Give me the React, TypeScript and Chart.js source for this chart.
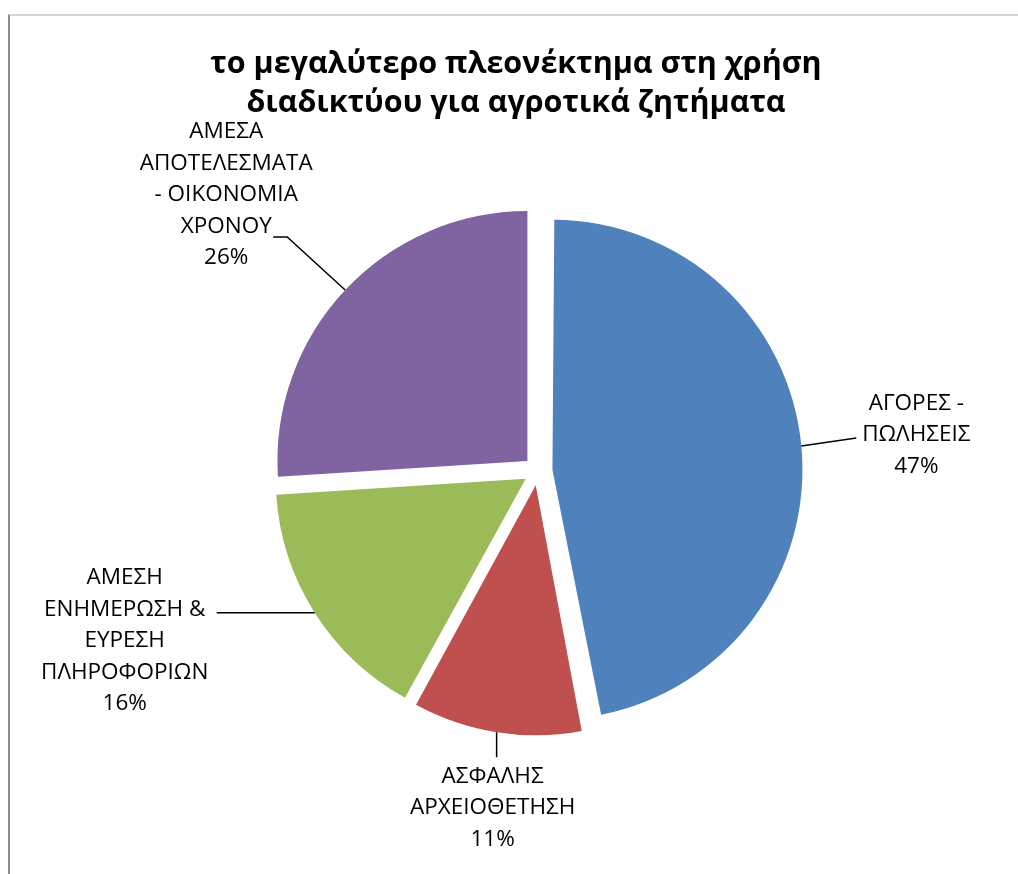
import React, { useEffect, useRef } from "react";
import { Chart, registerables } from "chart.js";

Chart.register(...registerables);

const titleLines = ["το μεγαλύτερο πλεονέκτημα στη χρήση", "διαδικτύου για αγροτικά ζητήματα"];
const categories: string[][] = [
  ["ΑΓΟΡΕΣ -", "ΠΩΛΗΣΕΙΣ"],
  ["ΑΣΦΑΛΗΣ", "ΑΡΧΕΙΟΘΕΤΗΣΗ"],
  ["ΑΜΕΣΗ", "ΕΝΗΜΕΡΩΣΗ &", "ΕΥΡΕΣΗ", "ΠΛΗΡΟΦΟΡΙΩΝ"],
  ["ΑΜΕΣΑ", "ΑΠΟΤΕΛΕΣΜΑΤΑ", "- ΟΙΚΟΝΟΜΙΑ", "ΧΡΟΝΟΥ"],
];
const values = [47, 11, 16, 26];
const colors = ["#4F81BD", "#C0504D", "#9BBB59", "#8064A2"];

const OFFSET = 58; // chart.js arc offset (translation = offset / 4)
const FONT = "'Open Sans', 'Noto Sans', sans-serif";
const LABEL_SIZE = 22.5;
const LINE_H = 31.5;

// label placement relative to the slice's outer mid point
const labelLayout = [
  { dx: 115, dy: -43, leader: [[55, -8]] },
  { dx: -4, dy: 44, leader: [[0, 25]] },
  { dx: -190, dy: -35, leader: [[-98, 0]] },
  { dx: -119, dy: -158, leader: [[-58, -53], [-72, -53]] },
];

const radiusFix = {
  id: "radiusFix",
  beforeDatasetsDraw(chart: any) {
    const meta = chart.getDatasetMeta(0);
    const R = meta.controller.outerRadius;
    meta.data.forEach((arc: any) => {
      const off = (arc.options.offset || 0) / 4;
      const fix = 1 - Math.sin(Math.min(Math.PI, arc.circumference || 0));
      arc.outerRadius = R - off * fix;
    });
  },
};

const titlePlugin = {
  id: "customTitle",
  afterDraw(chart: any) {
    const ctx = chart.ctx;
    ctx.save();
    ctx.fillStyle = "#000";
    ctx.font = `bold 30.5px ${FONT}`;
    ctx.textAlign = "center";
    ctx.textBaseline = "middle";
    titleLines.forEach((t, i) => ctx.fillText(t, 516, 64 + i * 39));
    ctx.restore();
  },
};

const labelPlugin = {
  id: "outsideLabels",
  afterDatasetsDraw(chart: any) {
    const ctx = chart.ctx;
    const meta = chart.getDatasetMeta(0);
    const R = meta.controller.outerRadius;
    const total = values.reduce((a, b) => a + b, 0);
    ctx.save();
    meta.data.forEach((arc: any, i: number) => {
      const mid = (arc.startAngle + arc.endAngle) / 2;
      const d = (arc.options.offset || 0) / 4;
      const cx = arc.x + Math.cos(mid) * d;
      const cy = arc.y + Math.sin(mid) * d;
      const ex = cx + Math.cos(mid) * R;
      const ey = cy + Math.sin(mid) * R;
      const lay = labelLayout[i];
      ctx.strokeStyle = "#000";
      ctx.lineWidth = 1.5;
      ctx.beginPath();
      ctx.moveTo(ex, ey);
      lay.leader.forEach((p) => ctx.lineTo(ex + p[0], ey + p[1]));
      ctx.stroke();
      const lines = [...categories[i], Math.round((values[i] / total) * 100) + "%"];
      ctx.fillStyle = "#000";
      ctx.font = `${LABEL_SIZE}px ${FONT}`;
      ctx.textAlign = "center";
      ctx.textBaseline = "middle";
      lines.forEach((t, k) => ctx.fillText(t, ex + lay.dx, ey + lay.dy + k * LINE_H));
    });
    ctx.restore();
  },
};

export default function App() {
  const ref = useRef<HTMLCanvasElement>(null);
  useEffect(() => {
    if (!ref.current) return;
    const chart = new Chart(ref.current, {
      type: "pie",
      data: {
        labels: categories.map((c) => c.join(" ")),
        datasets: [
          {
            data: values,
            backgroundColor: colors,
            borderWidth: 0,
            offset: OFFSET,
          },
        ],
      },
      options: {
        responsive: false,
        animation: false,
        devicePixelRatio: 1,
        radius: 250,
        layout: { padding: { left: 58, top: 68, right: 0, bottom: 0 } },
        plugins: {
          legend: { display: false },
          title: { display: false },
          tooltip: { enabled: false },
        },
        events: [],
      } as any,
      plugins: [radiusFix, labelPlugin, titlePlugin],
    });
    return () => chart.destroy();
  }, []);
  return (
    <div style={{ position: "absolute", left: 0, top: 0, width: 1018, height: 874, background: "#fff", overflow: "hidden" }}>
      <div
        style={{
          position: "absolute",
          left: 8,
          top: 14,
          width: 1100,
          height: 1000,
          borderLeft: "2px solid #8c8c8c",
          borderTop: "2px solid #d6d6d6",
        }}
      />
      <canvas ref={ref} width={1018} height={874} style={{ position: "absolute", left: 0, top: 0 }} />
    </div>
  );
}
